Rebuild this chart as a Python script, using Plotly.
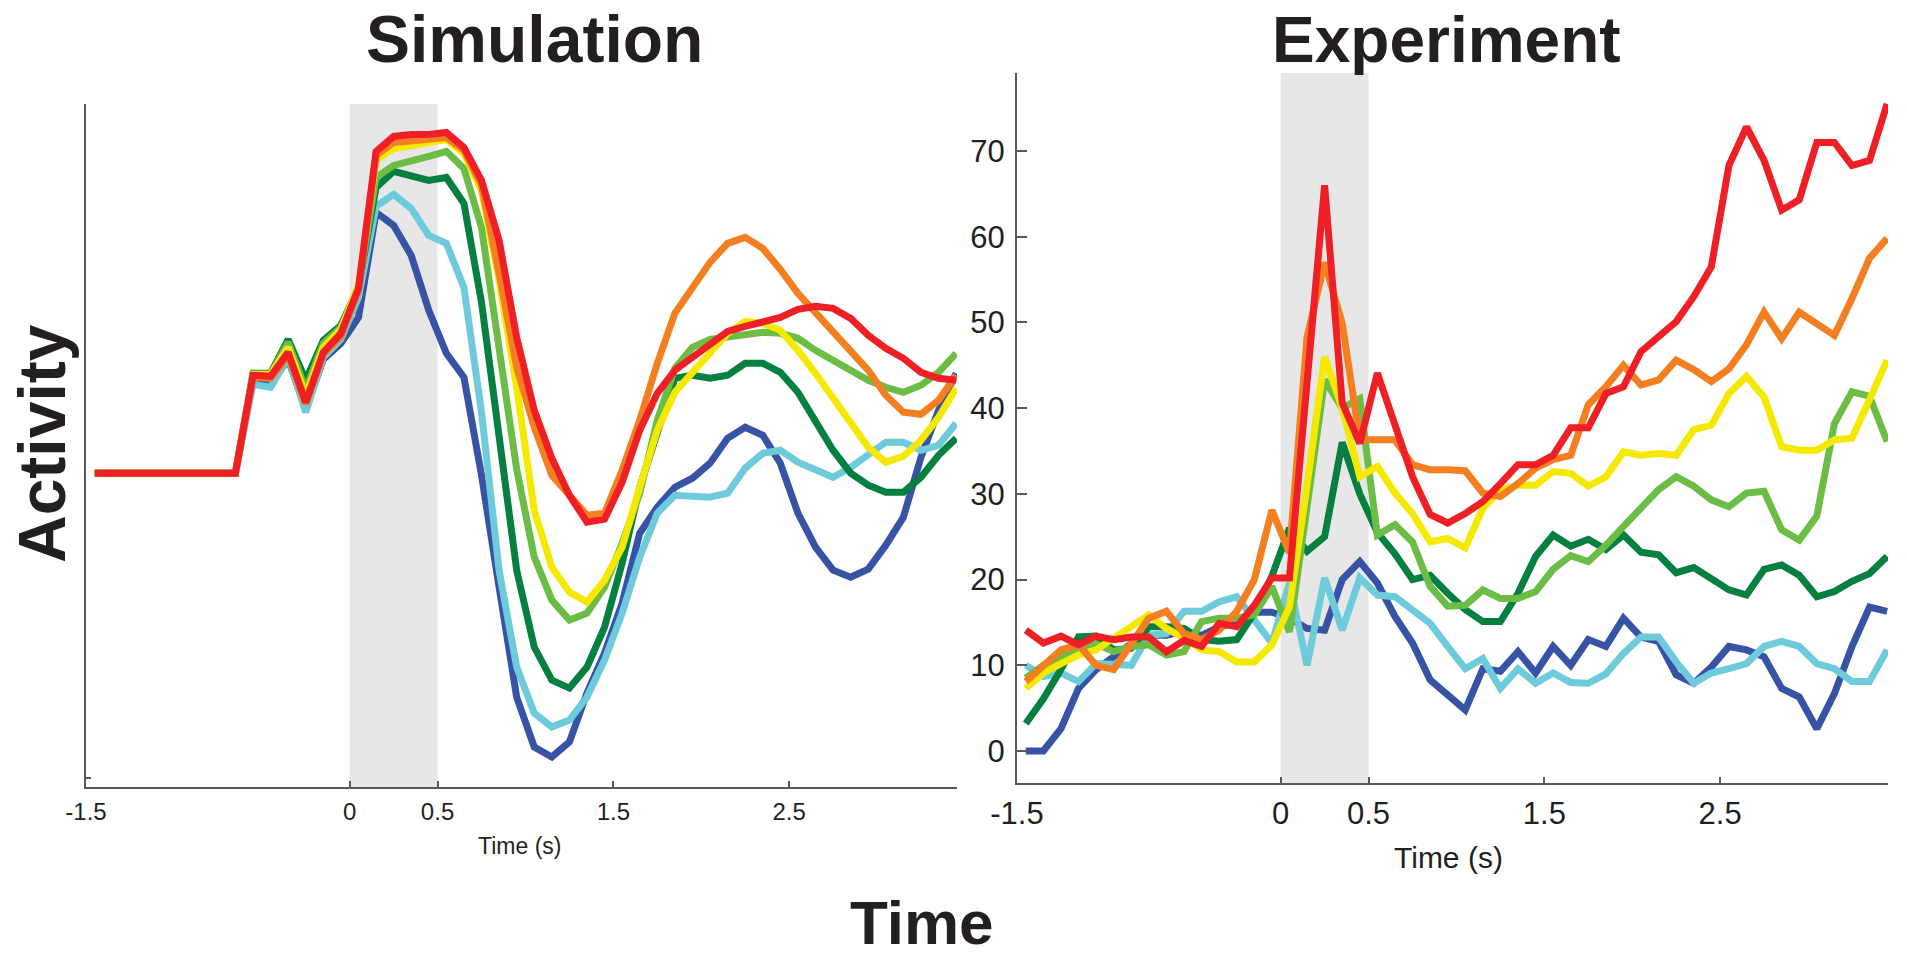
import plotly.graph_objects as go

# ---------------- data ----------------
TIME = [-1.45, -1.35, -1.25, -1.15, -1.05, -0.95, -0.85, -0.75, -0.65, -0.55,
        -0.45, -0.35, -0.25, -0.15, -0.05, 0.05, 0.15, 0.25, 0.35, 0.45,
        0.55, 0.65, 0.75, 0.85, 0.95, 1.05, 1.15, 1.25, 1.35, 1.45,
        1.55, 1.65, 1.75, 1.85, 1.95, 2.05, 2.15, 2.25, 2.35, 2.45,
        2.55, 2.65, 2.75, 2.85, 2.95, 3.05, 3.15, 3.25, 3.35, 3.45]

X_TICKS = [-1.5, 0, 0.5, 1.5, 2.5]
X_TICK_LABELS = ["-1.5", "0", "0.5", "1.5", "2.5"]
EXP_Y_TICKS = [0, 10, 20, 30, 40, 50, 60, 70]
STIM_WINDOW = [0, 0.5]

# Simulation (arbitrary activity units)
SIM_BLUE = [314, 314, 314, 314, 314, 314, 314, 314, 314, 408,
            403, 428, 378, 428, 444, 470, 575, 562, 532, 477,
            434, 410, 312, 200, 90, 40, 30, 45, 94, 134,
            184, 254, 280, 300, 309, 324, 349, 360, 352, 324,
            274, 240, 217, 210, 218, 242, 270, 330, 377, 414]
SIM_CYAN = [314, 314, 314, 314, 314, 314, 314, 314, 314, 403,
            400, 430, 375, 430, 448, 490, 581, 593, 579, 552,
            544, 500, 375, 217, 120, 74, 60, 67, 90, 127,
            174, 230, 274, 292, 291, 290, 294, 319, 334, 337,
            325, 317, 310, 320, 332, 345, 345, 337, 342, 364]
SIM_DGREEN = [314, 314, 314, 314, 314, 314, 314, 314, 314, 414,
              414, 448, 407, 447, 462, 500, 600, 616, 611, 607,
              610, 584, 485, 355, 217, 140, 107, 99, 120, 160,
              224, 300, 354, 409, 412, 409, 412, 424, 424, 415,
              395, 367, 337, 314, 302, 295, 295, 310, 332, 349]
SIM_LGREEN = [314, 314, 314, 314, 314, 314, 314, 314, 314, 413,
              413, 445, 398, 444, 460, 500, 610, 622, 626, 631,
              636, 619, 560, 440, 318, 230, 187, 167, 174, 200,
              244, 294, 367, 419, 440, 448, 450, 452, 455, 454,
              449, 437, 427, 419, 407, 400, 395, 402, 415, 434]
SIM_YELLOW = [314, 314, 314, 314, 314, 314, 314, 314, 314, 413,
              413, 440, 392, 440, 458, 502, 627, 639, 642, 645,
              648, 634, 597, 507, 400, 277, 220, 195, 185, 207,
              240, 300, 357, 395, 415, 435, 454, 466, 464, 457,
              437, 414, 389, 362, 340, 325, 331, 347, 370, 399]
SIM_ORANGE = [314, 314, 314, 314, 314, 314, 314, 314, 314, 410,
              409, 432, 383, 433, 451, 497, 632, 645, 647, 648,
              650, 637, 602, 514, 420, 360, 312, 292, 272, 274,
              317, 367, 424, 474, 500, 525, 544, 550, 539, 518,
              494, 475, 455, 436, 417, 392, 375, 373, 387, 412]
SIM_RED = [314, 314, 314, 314, 314, 314, 314, 314, 314, 412,
           411, 435, 385, 435, 454, 499, 636, 651, 653, 653,
           655, 640, 607, 547, 450, 377, 329, 292, 265, 268,
           305, 357, 394, 417, 430, 444, 456, 461, 466, 470,
           478, 481, 479, 469, 452, 439, 429, 415, 409, 407]

# Experiment (firing rate)
EXP_BLUE = [0, 0, 2.6, 7.3, 9.5, 11, 12.5, 13.5, 13.5, 14,
            13.5, 14.5, 15, 16.2, 16.2, 15.5, 14.3, 14.1, 20, 22.1,
            19.6, 15.7, 12.6, 8.3, 6.5, 4.8, 9.6, 9.3, 11.6, 9.1,
            12.2, 10.0, 13.0, 12.2, 15.5, 13.3, 12.8, 8.9, 7.9, 9.8,
            12.2, 11.8, 11.0, 7.3, 6.3, 2.6, 6.7, 12.2, 16.8, 16.3]
EXP_CYAN = [10, 8.7, 9.1, 8.1, 10.2, 10.2, 10, 13.5, 13.7, 16.3,
            16.3, 17.4, 18, 15.3, 12.6, 19.6, 10.0, 20.2, 14.1, 20.2,
            18.2, 18.0, 16.5, 14.9, 12.2, 9.6, 10.8, 7.3, 9.6, 7.9,
            9.1, 8.0, 7.9, 9.0, 11.4, 13.3, 13.3, 10.4, 7.9, 9.1,
            9.6, 10.2, 12.2, 12.8, 12.2, 10.2, 9.6, 8.1, 8.1, 11.8]
EXP_DGREEN = [3.2, 6.1, 9.5, 13.3, 13.4, 11.8, 12.0, 14.5, 14.5, 14.3,
              13.0, 12.8, 13.0, 16.1, 20.4, 26.0, 23.3, 25.0, 36.0, 30.0,
              25.5, 23.0, 20.0, 20.5, 18.4, 16.5, 15.1, 15.1, 18.4, 22.7,
              25.2, 23.9, 24.7, 23.5, 25.2, 23.2, 22.9, 20.8, 21.4, 20.2,
              18.8, 18.2, 21.2, 21.7, 20.5, 18.0, 18.6, 19.8, 20.7, 22.7]
EXP_LGREEN = [8.5, 10, 11, 12, 12.5, 11.6, 12.2, 12.4, 11.2, 11.6,
              15.1, 15.5, 15.5, 15.9, 19.2, 13.9, 28.5, 43.3, 40.0, 41.1,
              25.2, 26.4, 24.4, 19.2, 16.9, 17.0, 18.8, 17.8, 17.8, 18.6,
              21.2, 22.8, 22.1, 24.0, 26.2, 28.3, 30.5, 32.0, 30.9, 29.3,
              28.5, 30.1, 30.3, 25.8, 24.6, 27.4, 38.2, 41.9, 41.4, 36.1]
EXP_YELLOW = [7.3, 9.1, 10.2, 11.2, 11.8, 13.2, 14.5, 15.9, 14.3, 13.2,
              11.8, 11.6, 10.4, 10.4, 12.4, 16.8, 31, 46, 40, 32,
              33.2, 30.1, 27.7, 24.4, 24.8, 23.7, 28.3, 30.5, 31.0, 31.0,
              32.6, 32.4, 30.9, 32.0, 34.9, 34.5, 34.7, 34.5, 37.5, 38.0,
              41.7, 43.7, 41.3, 35.5, 35.1, 35.1, 36.3, 36.5, 41.0, 45.6]
EXP_ORANGE = [8.1, 10.0, 11.8, 12.4, 10.0, 9.5, 12.4, 15.5, 16.3, 13.7,
              13.0, 14.1, 16.3, 20.0, 28.1, 23.1, 48.3, 57, 49.9, 36.3,
              36.3, 36.3, 33.4, 32.8, 32.8, 32.7, 30.1, 29.7, 31.2, 33.0,
              34.0, 34.5, 40.4, 42.5, 45.0, 42.7, 43.3, 45.6, 44.5, 43.1,
              44.6, 47.4, 51.2, 48.1, 51.2, 49.9, 48.5, 52.8, 57.5, 59.8]
EXP_RED = [14.1, 12.6, 13.4, 12.4, 13.4, 13.0, 13.3, 13.3, 11.6, 12.9,
           12.2, 14.9, 14.5, 17.0, 20.2, 20.2, 43, 66.0, 40.6, 35.9,
           44.1, 38.2, 32.0, 27.6, 26.6, 27.7, 29.1, 31.2, 33.4, 33.4,
           34.5, 37.7, 37.7, 41.7, 42.5, 46.6, 48.3, 50.1, 53.0, 56.5,
           68.3, 72.8, 68.9, 63.1, 64.3, 71.0, 71.0, 68.3, 68.9, 75.5]

COLORS = ["#3653a5", "#6ecbdc", "#058040", "#6bbd45", "#f6e900", "#f47f21", "#ee2025"]
SIM = [SIM_BLUE, SIM_CYAN, SIM_DGREEN, SIM_LGREEN, SIM_YELLOW, SIM_ORANGE, SIM_RED]
EXP = [EXP_BLUE, EXP_CYAN, EXP_DGREEN, EXP_LGREEN, EXP_YELLOW, EXP_ORANGE, EXP_RED]

# ---------------- figure ----------------
W, H = 1907, 957
FONT = "Liberation Sans, Arial, Helvetica, sans-serif"
TXT = "#231f20"
AXC = "#58595b"
LW = 7

fig = go.Figure()
for vals, col in zip(SIM, COLORS):
    fig.add_trace(go.Scatter(x=TIME, y=vals, mode="lines", xaxis="x", yaxis="y",
                             line=dict(color=col, width=LW), hoverinfo="skip"))
for vals, col in zip(EXP, COLORS):
    fig.add_trace(go.Scatter(x=TIME, y=vals, mode="lines", xaxis="x2", yaxis="y2",
                             line=dict(color=col, width=LW), hoverinfo="skip"))

def px(x):
    return x / W

def py(y):
    return 1 - y / H

common_x = dict(range=[-1.5, 3.455], tickvals=X_TICKS, ticktext=X_TICK_LABELS,
                showgrid=False, zeroline=False, showline=True, linecolor=AXC, linewidth=2,
                ticks="inside", ticklen=6, tickwidth=1.5, tickcolor=AXC,
                fixedrange=True, automargin=False)

fig.update_layout(
    width=W, height=H,
    margin=dict(l=0, r=0, t=0, b=0),
    paper_bgcolor="white", plot_bgcolor="white",
    showlegend=False,
    font=dict(family=FONT, color=TXT),
    xaxis=dict(domain=[px(86), px(957)], anchor="y",
               tickfont=dict(size=24, family=FONT, color=TXT), ticklabelstandoff=2,
               **common_x),
    yaxis=dict(domain=[py(787), py(104)], anchor="x", range=[0, 683.5],
               tickvals=[9, 683], ticktext=["", ""],
               showgrid=False, zeroline=False, showline=True, linecolor=AXC, linewidth=2,
               ticks="inside", ticklen=5, tickwidth=1.5, tickcolor=AXC,
               fixedrange=True, automargin=False),
    xaxis2=dict(domain=[px(1017), px(1888)], anchor="y2",
                tickfont=dict(size=31, family=FONT, color=TXT), ticklabelstandoff=2,
                **common_x),
    yaxis2=dict(domain=[py(783), py(73)], anchor="x2", range=[-3.73, 79.1],
                tickvals=EXP_Y_TICKS,
                showgrid=False, zeroline=False, showline=True, linecolor=AXC, linewidth=2,
                ticks="inside", ticklen=10, tickwidth=2, tickcolor=AXC,
                tickfont=dict(size=31, family=FONT, color=TXT), ticklabelstandoff=4,
                fixedrange=True, automargin=False),
)

for xr, yr in (("x", "y domain"), ("x2", "y2 domain")):
    fig.add_shape(type="rect", xref=xr, yref=yr, x0=STIM_WINDOW[0], x1=STIM_WINDOW[1],
                  y0=0, y1=1, fillcolor="#e6e7e6", line=dict(width=0), layer="below")

def note(text, x, y, size, bold=False, angle=0):
    fig.add_annotation(text=f"<b>{text}</b>" if bold else text,
                       x=px(x), y=py(y), xref="paper", yref="paper",
                       xanchor="center", yanchor="middle", showarrow=False,
                       textangle=angle, font=dict(size=size, family=FONT, color=TXT))

note("Simulation", 534, 39, 66, bold=True)
note("Experiment", 1446, 40, 64, bold=True)
note("Activity", 42, 444, 66, bold=True, angle=-90)
note("Time", 922, 922, 62, bold=True)
note("Time (s)", 519, 846, 23)
note("Time (s)", 1448, 857, 30)

fig.write_html("out.html")
